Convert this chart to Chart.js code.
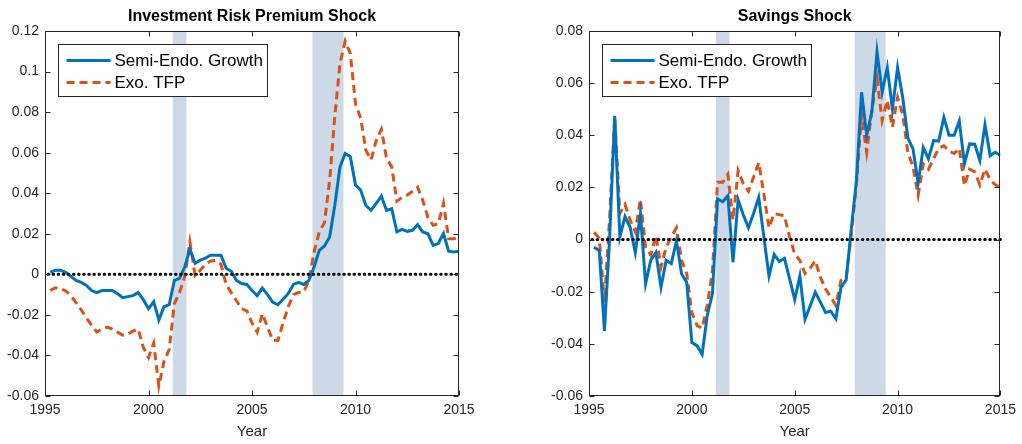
<!DOCTYPE html>
<html>
<head>
<meta charset="utf-8">
<script src="https://cdn.jsdelivr.net/npm/chart.js@4"></script>
<style>
  body { margin: 0; background: #fff; }
  #wrap { position: relative; width: 1022px; height: 444px; }
  .panel { position: absolute; top: 0; height: 444px; }
</style>
</head>
<body>
<div id="wrap">
  <div class="panel" style="left:0"><canvas id="invChart" width="511" height="444"></canvas></div>
  <div class="panel" style="left:544px"><canvas id="savChart" width="478" height="444"></canvas></div>
</div>
<script>
// quarterly, 1995Q2 .. 2015Q1
const startYear = 1995.25;
const nQuarters = 80;
const dates = [];
for (let i = 0; i < nQuarters; i++) dates.push(startYear + i / 4);

const xTicks = [1995, 2000, 2005, 2010, 2015];
const invYTicks = [-0.06, -0.04, -0.02, 0, 0.02, 0.04, 0.06, 0.08, 0.1, 0.12];
const savYTicks = [-0.06, -0.04, -0.02, 0, 0.02, 0.04, 0.06, 0.08];

// NBER recessions
const recessions = [[2001.17, 2001.83], [2007.92, 2009.42]];

const seriesLabels = ["Semi-Endo. Growth", "Exo. TFP"];

const invSemi = [
  0.001, 0.002, 0.002, 0.001, -0.001, -0.003, -0.004, -0.0055, -0.008, -0.009,
  -0.008, -0.008, -0.008, -0.0095, -0.0115, -0.011, -0.0105, -0.009, -0.0125, -0.017,
  -0.0135, -0.0225, -0.016, -0.015, -0.003, -0.002, 0.0036, 0.0125, 0.0055, 0.007,
  0.008, 0.0094, 0.0094, 0.0094, 0.003, 0.0015, -0.003, -0.0045, -0.005, -0.008,
  -0.0105, -0.0068, -0.010, -0.0137, -0.015, -0.0123, -0.0095, -0.005, -0.004, -0.005,
  -0.003, 0.0036, 0.0118, 0.014, 0.0184, 0.034, 0.053, 0.0596, 0.058, 0.044,
  0.0415, 0.034, 0.0316, 0.035, 0.0385, 0.0315, 0.0324, 0.021, 0.0222, 0.0212,
  0.0217, 0.0245, 0.0209, 0.020, 0.0143, 0.0152, 0.0201, 0.0114, 0.011, 0.0114
];
const invExo = [
  -0.008, -0.0066, -0.007, -0.0082, -0.0104, -0.014, -0.0175, -0.0215, -0.025, -0.0285,
  -0.027, -0.026, -0.027, -0.0285, -0.030, -0.0295, -0.028, -0.027, -0.036, -0.041,
  -0.034, -0.055, -0.043, -0.037, -0.0145, -0.009, -0.001, 0.016, -0.0005, 0.002,
  0.005, 0.0066, 0.0069, 0.005, -0.005, -0.009, -0.013, -0.017, -0.018, -0.024,
  -0.0285, -0.0194, -0.026, -0.0325, -0.0326, -0.024, -0.016, -0.010, -0.009, -0.0087,
  -0.003, 0.011, 0.021, 0.0255, 0.046, 0.078, 0.104, 0.115, 0.109, 0.084,
  0.077, 0.0612, 0.0565, 0.066, 0.0715, 0.0571, 0.053, 0.036, 0.038, 0.039,
  0.041, 0.043, 0.0365, 0.028, 0.0242, 0.025, 0.035, 0.0176, 0.0176, 0.018
];
const savSemi = [
  -0.003, -0.0042, -0.035, 0.000, 0.0475, 0.001, 0.0088, 0.0047, -0.005, 0.0099,
  -0.017, -0.008, -0.005, -0.0183, -0.008, -0.0092, -0.0005, -0.0132, -0.0164, -0.0395,
  -0.0407, -0.044, -0.029, -0.0208, 0.0156, 0.0145, 0.0168, -0.0087, 0.0152, 0.0095,
  0.0045, 0.010, 0.0162, 0.001, -0.014, -0.0057, -0.0084, -0.0072, -0.015, -0.023,
  -0.014, -0.0306, -0.0255, -0.0202, -0.024, -0.028, -0.0275, -0.0304, -0.0183, -0.0155,
  0.004, 0.0226, 0.0565, 0.040, 0.049, 0.072, 0.0565, 0.066, 0.050, 0.066,
  0.0545, 0.039, 0.0348, 0.0217, 0.0353, 0.031, 0.038, 0.0378, 0.0469, 0.040,
  0.040, 0.0455, 0.029, 0.0367, 0.0366, 0.0303, 0.044, 0.0322, 0.0335, 0.0322
];
const savExo = [
  0.0028, 0.0005, -0.024, 0.008, 0.047, 0.010, 0.0135, 0.0075, 0.003, 0.0155,
  -0.003, -0.006, 0.0015, -0.0105, -0.003, 0.001, 0.0045, -0.008, -0.013, -0.028,
  -0.033, -0.034, -0.025, -0.012, 0.022, 0.022, 0.025, 0.0075, 0.0265, 0.0214,
  0.0185, 0.024, 0.0295, 0.0175, 0.0045, 0.010, 0.0095, 0.0092, 0.001, -0.0055,
  -0.008, -0.013, -0.011, -0.0081, -0.0145, -0.019, -0.022, -0.0253, -0.0157, -0.0145,
  0.002, 0.0214, 0.0476, 0.0335, 0.0495, 0.0617, 0.0457, 0.0534, 0.0431, 0.0546,
  0.048, 0.0335, 0.028, 0.017, 0.029, 0.027, 0.031, 0.035, 0.036, 0.034,
  0.033, 0.035, 0.0207, 0.027, 0.026, 0.021, 0.027, 0.023, 0.021, 0.020
];

const FONT = "'Liberation Sans', Arial, Helvetica, sans-serif";
const AXIS_COLOR = "#262626";
const BLUE = "#0072BD";
const ORANGE = "#D95319";

// recession bands, zero line, box, inward ticks, title and legend
const panelDecor = {
  id: "panelDecor",
  beforeDatasetsDraw(chart) {
    const { ctx, chartArea: a, scales: { x } } = chart;
    ctx.save();
    ctx.fillStyle = "rgb(205,217,230)";
    recessions.forEach(([s, e]) => {
      const x0 = x.getPixelForValue(s);
      const x1 = x.getPixelForValue(e);
      ctx.fillRect(x0, a.top, x1 - x0, a.bottom - a.top);
    });
    ctx.restore();
  },
  afterDatasetsDraw(chart) {
    const { ctx, chartArea: a, scales: { y } } = chart;
    const y0 = y.getPixelForValue(0);
    ctx.save();
    ctx.strokeStyle = "#000";
    ctx.lineWidth = 3;
    ctx.lineCap = "round";
    ctx.setLineDash([0.5, 4.6]);
    ctx.beginPath();
    ctx.moveTo(a.left + 3, y0);
    ctx.lineTo(a.right, y0);
    ctx.stroke();
    ctx.restore();
  },
  afterDraw(chart, args, opts) {
    const { ctx, chartArea: a, scales: { x, y } } = chart;
    ctx.save();
    // axes box
    ctx.strokeStyle = AXIS_COLOR;
    ctx.lineWidth = 1;
    const L = Math.round(a.left) + 0.5, R = Math.round(a.right) - 0.5;
    const T = Math.round(a.top) + 0.5, B = Math.round(a.bottom) - 0.5;
    ctx.strokeRect(L, T, R - L, B - T);
    // inward tick marks on all four sides
    ctx.beginPath();
    x.ticks.forEach(t => {
      const px = Math.round(x.getPixelForValue(t.value)) + 0.5;
      ctx.moveTo(px, B); ctx.lineTo(px, B - 5);
      ctx.moveTo(px, T); ctx.lineTo(px, T + 5);
    });
    y.ticks.forEach(t => {
      const py = Math.round(y.getPixelForValue(t.value)) + 0.5;
      ctx.moveTo(L, py); ctx.lineTo(L + 5, py);
      ctx.moveTo(R, py); ctx.lineTo(R - 5, py);
    });
    ctx.stroke();

    // title
    ctx.fillStyle = "#000";
    ctx.font = "bold 16px " + FONT;
    ctx.textAlign = "center";
    ctx.textBaseline = "alphabetic";
    ctx.fillText(opts.title, (a.left + a.right) / 2, 21);

    // legend
    const bx = Math.round(a.left + 13) + 0.5, by = Math.round(a.top + 13) + 0.5;
    const bw = 209, bh = 52;
    ctx.fillStyle = "#fff";
    ctx.fillRect(bx, by, bw, bh);
    ctx.strokeStyle = AXIS_COLOR;
    ctx.lineWidth = 1;
    ctx.strokeRect(bx, by, bw, bh);
    chart.data.datasets.forEach((ds, i) => {
      const ly = by + 16 + i * 22;
      ctx.strokeStyle = ds.borderColor;
      ctx.lineWidth = ds.borderWidth;
      ctx.setLineDash(ds.borderDash || []);
      ctx.beginPath();
      ctx.moveTo(bx + 8, ly);
      ctx.lineTo(bx + 52, ly);
      ctx.stroke();
      ctx.setLineDash([]);
      ctx.fillStyle = "#000";
      ctx.font = "17px " + FONT;
      ctx.textAlign = "left";
      ctx.textBaseline = "middle";
      ctx.fillText(ds.label, bx + 56, ly + 1);
    });
    ctx.restore();
  }
};

function drawPanel(canvasId, title, semi, exo, yTicks, rightPad) {
  const ctx = document.getElementById(canvasId).getContext("2d");
  return new Chart(ctx, {
    type: "line",
    data: {
      datasets: [
        {
          label: seriesLabels[0],
          data: dates.map((d, i) => ({ x: d, y: semi[i] })),
          borderColor: BLUE,
          borderWidth: 3,
          pointRadius: 0,
          tension: 0,
        },
        {
          label: seriesLabels[1],
          data: dates.map((d, i) => ({ x: d, y: exo[i] })),
          borderColor: ORANGE,
          borderWidth: 3,
          borderDash: [8, 5],
          pointRadius: 0,
          tension: 0,
        },
      ],
    },
    options: {
      responsive: false,
      animation: false,
      layout: { padding: { top: 31, right: rightPad, left: 0, bottom: 0 } },
      plugins: {
        legend: { display: false },
        tooltip: { enabled: false },
        panelDecor: { title: title },
      },
      scales: {
        x: {
          type: "linear",
          min: xTicks[0],
          max: xTicks[xTicks.length - 1],
          afterBuildTicks: axis => { axis.ticks = xTicks.map(v => ({ value: v })); },
          afterFit: axis => { axis.height = 48; },
          grid: { display: false, drawTicks: false, tickLength: 0 },
          border: { display: false },
          ticks: {
            color: AXIS_COLOR,
            font: { family: FONT, size: 14 },
            padding: 6,
            maxRotation: 0,
            callback: v => String(v),
          },
          title: {
            display: true,
            text: "Year",
            color: AXIS_COLOR,
            font: { family: FONT, size: 15 },
            padding: { top: 0, bottom: 3 },
          },
        },
        y: {
          min: yTicks[0],
          max: yTicks[yTicks.length - 1],
          afterBuildTicks: axis => { axis.ticks = yTicks.map(v => ({ value: v })); },
          afterFit: axis => { axis.width = 45; },
          grid: { display: false, drawTicks: false, tickLength: 0 },
          border: { display: false },
          ticks: {
            color: AXIS_COLOR,
            font: { family: FONT, size: 14 },
            padding: 6,
            callback: v => String(Number(v.toFixed(2))),
          },
        },
      },
    },
    plugins: [panelDecor],
  });
}

drawPanel("invChart", "Investment Risk Premium Shock", invSemi, invExo, invYTicks, 52);
drawPanel("savChart", "Savings Shock", savSemi, savExo, savYTicks, 19);
</script>
</body>
</html>
